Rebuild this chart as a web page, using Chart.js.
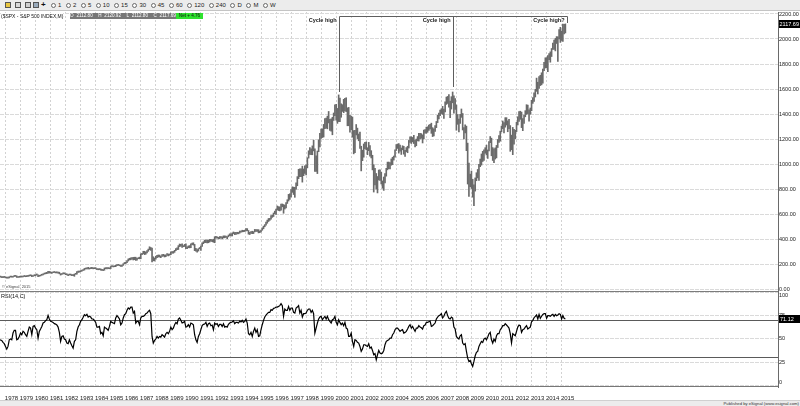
<!DOCTYPE html>
<html>
<head>
<meta charset="utf-8">
<title>$SPX - S&amp;P 500 INDEX, M</title>
<script src="https://cdn.jsdelivr.net/npm/chart.js@4.4.1/dist/chart.umd.min.js"></script>
<style>
  html, body { margin:0; padding:0; background:#fff; }
  #wrap { position:relative; width:800px; height:406px; overflow:hidden; font-family:"Liberation Sans", Arial, sans-serif; }
  #toolbar { position:absolute; left:0; top:0; width:800px; height:10px; background:#ececec; border-bottom:1px solid #c4c4c4; }
  .ico { position:absolute; top:2px; width:6px; height:6px; border:1px solid #555; box-sizing:border-box; }
  #plus { position:absolute; left:41px; top:0; font:bold 8px "Liberation Sans"; line-height:10px; color:#111; }
  #tbtns { position:absolute; left:51px; top:0; height:10px; display:flex; align-items:center; font-size:6px; color:#222; }
  .btn { display:flex; align-items:center; margin-right:4.6px; }
  .btn i { display:block; width:5px; height:5px; box-sizing:border-box; border:1px solid #6a6a6a; border-radius:50%; background:#fafafa; margin-right:2px; }
  canvas { position:absolute; left:0; }
  #price { top:12px; }
  #rsi { top:292px; }
  .hd { position:absolute; top:13px; height:6px; line-height:6px; white-space:nowrap; }
  #sym { left:1px; font-size:5px; color:#111; background:#fff; }
  #ohlc { left:70px; width:106px; background:#777; color:#fff; font-size:4.6px; text-align:center; word-spacing:1.5px; }
  #net { left:176px; width:27px; background:#2fe22f; color:#111; font-size:4.6px; text-align:center; }
  #footer { position:absolute; left:0; top:400px; width:800px; height:6px; background:#ececec; border-top:1px solid #d0d0d0; box-sizing:border-box; font-size:4.2px; line-height:5px; text-align:right; color:#333; padding-right:1px; }
</style>
</head>
<body>
<div id="wrap">
  <div id="toolbar">
    <div class="ico" style="left:5px;background:#e8c640;"></div>
    <div class="ico" style="left:15px;background:#d9d9d9;"></div>
    <div class="ico" style="left:25px;background:#cfcfcf;"></div>
    <div class="ico" style="left:33px;background:#9ab;"></div>
    <div id="plus">+</div>
    <div id="tbtns"></div>
  </div>
  <canvas id="price" width="800" height="280"></canvas>
  <canvas id="rsi" width="800" height="114"></canvas>
  <div class="hd" id="sym">($SPX - S&amp;P 500 INDEX,M)</div>
  <div class="hd" id="ohlc">O 2112.80 &nbsp;H 2120.92 &nbsp;L 2112.80 &nbsp;C 2117.69</div>
  <div class="hd" id="net">Net + 4.76</div>
  <div id="footer">Published by eSignal (www.esignal.com)</div>
</div>
<script>
// ---------------- DATA ----------------
// Monthly S&P 500 bars, first bar = August 1977, last bar = April 2015
const START_YEAR = 1977, START_MONTH = 8;

const lows = [
  96.0, 95.0, 91.5, 90.7, 92.7,
  88.8, 86.9, 86.4, 88.5, 95.5, 94.8, 94.3, 100.2, 100.9, 92.5, 92.0, 93.5,
  96.0, 95.5, 96.3, 100.0, 98.0, 98.8, 100.7, 103.5, 106.0, 99.0, 99.9, 105.8,
  105.2, 112.4, 98.2, 101.5, 104.7, 110.1, 113.5, 119.0, 121.3, 123.0, 126.3, 127.4,
  128.3, 124.7, 129.8, 132.0, 128.5, 129.0, 127.5, 121.5, 111.3, 115.9, 121.0, 121.4,
  114.8, 112.9, 106.6, 111.8, 111.2, 107.2, 106.9, 101.4, 117.4, 118.0, 132.9, 134.4,
  138.3, 142.6, 148.0, 151.0, 160.0, 161.0, 160.0, 159.6, 163.0, 162.0, 161.3, 162.6,
  162.6, 154.3, 153.6, 155.2, 150.2, 148.7, 147.3, 150.2, 162.5, 160.6, 163.1, 161.7,
  163.4, 178.6, 176.5, 178.0, 178.4, 186.8, 189.5, 186.0, 180.6, 181.2, 189.0, 200.5,
  203.5, 210.5, 223.7, 232.0, 233.7, 239.2, 232.2, 234.8, 228.7, 231.0, 242.8, 241.2,
  242.0, 273.8, 282.9, 275.0, 278.2, 288.7, 301.3, 314.0, 309.0, 216.5, 225.8, 223.9,
  238.6, 251.3, 256.1, 255.2, 250.8, 260.1, 263.0, 256.0, 258.3, 269.1, 264.6, 270.0,
  273.8, 287.0, 286.0, 293.5, 305.8, 314.0, 316.0, 339.0, 342.0, 332.8, 338.0, 340.0,
  322.9, 322.1, 330.0, 329.1, 330.8, 354.0, 351.0, 306.9, 302.5, 294.5, 303.7, 321.8,
  309.4, 340.0, 362.5, 371.2, 371.4, 368.6, 370.0, 376.0, 382.3, 378.7, 374.0, 370.2,
  407.0, 407.8, 401.4, 402.0, 409.3, 401.6, 407.9, 410.0, 413.3, 402.7, 417.3, 427.0,
  425.5, 424.2, 443.0, 435.0, 437.6, 440.9, 441.3, 447.0, 454.0, 457.0, 458.0, 460.0,
  464.6, 466.1, 438.9, 435.9, 444.4, 442.6, 443.3, 456.9, 460.5, 460.3, 448.9, 450.6,
  457.2, 470.2, 481.9, 497.9, 511.3, 526.0, 540.0, 549.0, 559.0, 573.0, 580.0, 602.0,
  597.3, 632.6, 627.6, 624.7, 630.1, 658.0, 605.9, 639.7, 649.4, 684.4, 703.8, 716.7,
  737.0, 773.4, 756.0, 733.5, 797.8, 826.0, 883.0, 898.0, 898.3, 855.0, 906.8, 924.0,
  912.8, 969.0, 1047.0, 1076.7, 1074.7, 1074.0, 1105.0, 939.9, 939.9, 923.3, 1098.7, 1136.9,
  1205.5, 1211.6, 1216.0, 1282.8, 1287.1, 1281.4, 1328.5, 1268.0, 1263.4, 1233.7, 1348.5, 1387.0,
  1350.1, 1325.1, 1339.4, 1339.4, 1373.9, 1420.6, 1410.8, 1424.9, 1419.4, 1305.8, 1305.8, 1254.1,
  1274.6, 1214.5, 1081.2, 1091.0, 1232.4, 1203.0, 1185.7, 1124.9, 944.8, 1026.8, 1054.3, 1123.2,
  1114.0, 1074.4, 1106.7, 1063.5, 1048.5, 952.9, 775.7, 833.4, 800.2, 768.6, 872.1, 869.5,
  840.3, 806.3, 788.9, 847.9, 902.8, 953.3, 962.1, 960.8, 990.4, 995.0, 1031.2, 1055.0,
  1108.0, 1124.4, 1087.2, 1102.8, 1076.3, 1113.3, 1078.8, 1060.7, 1099.2, 1090.2, 1127.6, 1173.4,
  1163.8, 1176.9, 1163.7, 1137.5, 1146.2, 1185.0, 1183.6, 1201.1, 1205.4, 1168.2, 1201.1, 1246.7,
  1245.7, 1253.6, 1268.2, 1280.7, 1245.3, 1219.3, 1224.5, 1261.3, 1290.9, 1331.2, 1360.9, 1385.9,
  1403.9, 1396.7, 1363.9, 1416.4, 1476.7, 1484.2, 1454.3, 1370.6, 1439.3, 1489.6, 1406.1, 1435.7,
  1270.1, 1317.5, 1256.9, 1324.3, 1373.1, 1272.0, 1200.4, 1247.9, 1106.4, 839.8, 741.0, 818.4,
  804.3, 734.5, 666.8, 783.3, 866.1, 888.9, 869.3, 978.5, 991.0, 1020.2, 1029.4, 1085.9,
  1071.6, 1044.5, 1105.4, 1170.7, 1065.8, 1028.3, 1010.9, 1039.7, 1048.9, 1131.9, 1173.0, 1182.9,
  1257.6, 1282.9, 1249.1, 1294.7, 1311.8, 1258.1, 1282.9, 1101.5, 1114.2, 1074.8, 1158.7, 1202.4,
  1258.9, 1312.4, 1340.0, 1357.4, 1291.0, 1266.7, 1325.4, 1377.7, 1396.6, 1403.3, 1343.4, 1398.1,
  1426.2, 1485.0, 1501.5, 1536.0, 1581.3, 1560.3, 1604.6, 1627.5, 1633.4, 1646.5, 1746.2, 1767.9,
  1770.5, 1737.9, 1834.4, 1814.4, 1859.8, 1915.9, 1916.4, 1904.8, 1964.0, 1820.7, 2001.0, 1972.6,
  1988.1, 1980.9, 2039.7, 2048.4
];

const highs = [
  99.5, 97.5, 97.0, 95.8, 95.3,
  95.2, 90.1, 89.6, 97.7, 99.7, 99.3, 101.0, 106.3, 106.9, 104.5, 97.0, 97.0,
  100.8, 100.1, 102.2, 103.0, 102.0, 103.6, 104.3, 110.0, 111.6, 111.0, 106.8, 109.7,
  115.2, 118.4, 114.3, 107.0, 111.9, 117.0, 122.0, 126.0, 130.4, 133.7, 141.0, 140.7,
  138.1, 131.6, 137.6, 138.4, 134.1, 134.5, 132.7, 134.5, 123.0, 124.0, 127.3, 127.2,
  122.6, 121.0, 114.1, 119.4, 119.6, 112.4, 112.3, 119.6, 124.7, 138.6, 143.4, 143.7,
  147.3, 149.3, 154.0, 164.6, 166.4, 170.0, 172.6, 164.8, 168.7, 172.7, 168.2, 167.2,
  169.5, 163.9, 160.1, 161.3, 161.0, 155.6, 153.2, 168.2, 167.8, 170.4, 170.4, 168.0,
  180.3, 183.9, 184.0, 183.6, 190.0, 192.0, 197.3, 193.2, 189.0, 190.5, 202.4, 212.0,
  213.4, 227.9, 240.4, 245.8, 249.2, 252.0, 253.0, 254.4, 254.2, 244.6, 249.9, 254.9,
  280.9, 285.5, 301.9, 301.9, 296.0, 306.9, 319.2, 337.9, 332.0, 328.0, 258.0, 248.1,
  262.5, 268.6, 272.2, 271.6, 263.5, 275.3, 277.6, 273.0, 272.6, 283.7, 280.0, 280.2,
  297.5, 300.3, 300.6, 309.6, 323.1, 329.0, 347.0, 360.0, 357.6, 360.4, 347.0, 356.8,
  360.6, 337.0, 344.5, 347.3, 361.9, 368.0, 369.8, 357.0, 326.0, 316.0, 323.4, 331.8,
  344.3, 369.8, 378.2, 391.3, 392.0, 391.0, 390.0, 397.0, 396.4, 394.0, 398.0, 418.3,
  420.8, 417.2, 413.0, 419.8, 419.8, 417.0, 425.0, 425.0, 422.4, 419.0, 431.6, 441.3,
  442.2, 448.8, 456.4, 452.0, 453.1, 453.9, 452.6, 464.0, 463.9, 470.2, 469.0, 470.9,
  482.9, 483.0, 468.0, 453.1, 459.7, 462.3, 458.9, 476.6, 474.5, 474.8, 474.9, 464.0,
  472.0, 489.2, 503.2, 514.9, 535.6, 551.1, 564.0, 565.0, 587.0, 590.6, 608.0, 622.9,
  638.5, 664.2, 659.0, 656.6, 680.0, 680.3, 675.9, 670.7, 690.9, 714.1, 757.0, 761.8,
  794.7, 817.4, 814.9, 812.9, 850.0, 899.0, 957.7, 961.6, 960.5, 983.1, 960.0, 986.2,
  992.7, 1050.0, 1105.7, 1130.5, 1122.1, 1145.0, 1190.6, 1121.0, 1066.1, 1103.8, 1192.9, 1244.9,
  1280.0, 1281.5, 1316.6, 1362.8, 1368.0, 1383.0, 1420.3, 1357.0, 1361.4, 1373.2, 1408.0, 1473.1,
  1478.0, 1444.6, 1552.9, 1527.2, 1481.5, 1474.6, 1517.3, 1525.2, 1530.1, 1449.0, 1452.6, 1389.1,
  1383.4, 1376.4, 1267.4, 1269.3, 1315.9, 1287.0, 1239.8, 1255.1, 1142.0, 1110.6, 1160.3, 1173.0,
  1176.6, 1130.2, 1173.0, 1147.8, 1106.6, 1070.0, 994.5, 965.0, 924.0, 900.1, 951.6, 954.3,
  935.1, 864.6, 895.9, 924.2, 965.4, 1015.3, 1015.4, 1011.0, 1040.3, 1053.8, 1063.6, 1112.6,
  1155.4, 1160.0, 1163.2, 1150.6, 1127.7, 1146.2, 1140.8, 1109.7, 1131.5, 1142.1, 1188.5, 1217.3,
  1217.8, 1212.4, 1229.1, 1191.9, 1199.6, 1219.6, 1245.2, 1245.9, 1243.1, 1233.3, 1270.6, 1275.8,
  1294.9, 1297.6, 1310.9, 1318.2, 1326.7, 1290.7, 1280.4, 1306.7, 1340.3, 1389.5, 1407.9, 1431.8,
  1441.6, 1461.6, 1438.9, 1498.0, 1535.6, 1540.6, 1555.9, 1503.9, 1538.7, 1576.1, 1545.8, 1523.6,
  1471.8, 1396.0, 1359.7, 1397.0, 1440.2, 1404.1, 1292.2, 1313.2, 1303.0, 1167.0, 1007.5, 918.9,
  943.9, 877.9, 833.0, 888.7, 930.2, 956.2, 996.7, 1039.5, 1080.2, 1101.4, 1113.7, 1130.4,
  1150.5, 1112.4, 1180.2, 1219.8, 1206.8, 1131.2, 1120.9, 1129.2, 1148.7, 1196.1, 1227.1, 1262.6,
  1302.7, 1344.1, 1332.3, 1370.6, 1370.6, 1345.2, 1356.5, 1307.4, 1230.7, 1292.7, 1277.6, 1269.4,
  1333.5, 1378.0, 1419.2, 1422.4, 1415.3, 1363.5, 1392.0, 1426.7, 1474.5, 1470.9, 1434.3, 1448.0,
  1509.9, 1530.9, 1570.3, 1597.6, 1687.2, 1654.2, 1698.8, 1709.7, 1729.9, 1759.8, 1813.6, 1849.4,
  1850.8, 1867.9, 1883.9, 1897.3, 1924.0, 1968.2, 1991.4, 2005.0, 2019.3, 2018.2, 2075.8, 2093.6,
  2064.4, 2119.6, 2117.5, 2120.9
];

// RSI(14, C) monthly
const rsiValues = [
  48.9, 48.9, 48.2, 46.1, 44.7,
  41.8, 38.9, 41.8, 48.9, 49.7, 48.9, 56.1, 59.0, 59.0, 48.9, 49.7, 52.5,
  56.1, 54.3, 57.9, 56.8, 54.3, 52.5, 57.9, 62.5, 61.4, 54.3, 63.2, 64.0,
  61.4, 59.7, 50.7, 57.9, 60.4, 63.2, 66.8, 67.5, 69.3, 70.4, 75.0, 71.1,
  68.6, 68.2, 67.5, 66.1, 65.7, 64.7, 62.5, 56.8, 47.2, 52.5, 53.2, 49.7,
  48.9, 45.4, 44.7, 48.9, 45.4, 42.5, 40.0, 47.2, 48.9, 57.9, 62.5, 65.0,
  68.6, 70.4, 72.9, 75.7, 74.7, 76.1, 73.2, 74.0, 73.2, 71.1, 71.1, 69.7,
  67.5, 62.5, 62.5, 63.2, 55.4, 56.8, 53.2, 62.5, 61.4, 60.4, 59.0, 63.2,
  68.6, 67.5, 66.8, 66.1, 72.2, 74.7, 73.2, 71.1, 65.0, 66.8, 72.2, 75.7,
  76.8, 80.4, 82.9, 81.8, 83.9, 83.9, 77.5, 79.3, 66.8, 68.6, 68.6, 65.0,
  72.2, 74.0, 74.0, 74.7, 76.8, 77.5, 79.3, 80.4, 76.8, 52.5, 45.4, 48.2,
  49.7, 52.5, 50.7, 52.5, 51.8, 54.3, 53.2, 51.8, 55.4, 56.8, 55.4, 57.9,
  62.5, 59.7, 61.4, 65.0, 67.5, 66.1, 71.1, 72.2, 69.7, 66.8, 67.5, 68.6,
  62.5, 63.2, 65.0, 62.5, 66.8, 66.1, 65.0, 54.3, 48.9, 46.1, 52.5, 55.4,
  59.7, 64.0, 65.4, 65.7, 67.5, 63.2, 66.1, 66.8, 64.0, 64.7, 59.7, 66.8,
  65.4, 66.1, 63.2, 65.4, 65.4, 63.2, 66.1, 62.5, 63.2, 62.5, 65.4, 66.8,
  67.5, 67.9, 69.3, 66.1, 67.5, 67.5, 66.8, 68.9, 67.9, 69.7, 67.5, 68.6,
  71.1, 66.8, 55.4, 54.3, 56.8, 52.5, 57.9, 61.4, 56.8, 59.7, 52.5, 53.2,
  59.7, 65.0, 69.7, 73.2, 75.4, 76.8, 78.2, 78.2, 81.1, 80.4, 82.5, 82.9,
  83.9, 83.9, 84.6, 85.4, 87.5, 85.4, 74.0, 81.8, 80.4, 80.4, 84.6, 80.4,
  82.9, 82.9, 78.2, 77.5, 82.9, 83.9, 85.4, 77.5, 80.4, 73.2, 76.8, 76.8,
  77.5, 80.4, 81.8, 81.8, 78.2, 80.4, 76.8, 56.1, 61.4, 66.8, 71.1, 73.2,
  74.0, 70.4, 72.2, 74.0, 71.1, 74.0, 70.4, 68.6, 66.8, 70.4, 71.1, 74.0,
  67.5, 65.0, 70.4, 67.5, 65.0, 66.8, 64.0, 67.5, 61.4, 60.4, 52.5, 52.5,
  56.1, 47.2, 41.8, 48.9, 48.2, 46.1, 45.4, 41.8, 36.5, 38.9, 43.6, 43.6,
  42.5, 41.8, 44.7, 40.0, 41.1, 37.5, 32.9, 34.0, 27.5, 32.9, 37.5, 34.7,
  34.0, 34.7, 37.5, 43.6, 47.2, 48.2, 48.9, 50.7, 50.7, 54.3, 56.1, 59.7,
  61.4, 61.4, 59.7, 57.9, 59.0, 59.7, 56.1, 56.8, 57.9, 60.4, 63.2, 65.0,
  61.4, 63.2, 60.4, 57.9, 61.4, 61.4, 64.0, 62.5, 61.8, 60.4, 64.0, 64.7,
  67.5, 67.5, 68.2, 68.9, 63.2, 64.0, 65.4, 66.8, 71.1, 73.2, 74.7, 75.4,
  76.8, 72.2, 74.0, 77.5, 79.3, 74.7, 71.8, 71.1, 73.2, 72.2, 62.5, 60.4,
  52.5, 50.7, 49.7, 53.2, 54.3, 45.4, 43.6, 44.7, 36.5, 29.3, 25.7, 26.8,
  23.2, 20.4, 25.7, 31.8, 35.4, 36.5, 41.8, 44.7, 47.2, 46.1, 49.7, 50.7,
  48.9, 51.8, 55.4, 56.8, 48.9, 45.4, 49.7, 47.2, 53.2, 55.4, 55.4, 59.7,
  61.4, 64.0, 64.0, 66.1, 64.7, 63.2, 61.4, 55.4, 45.4, 55.4, 54.3, 53.2,
  57.9, 62.5, 64.7, 64.0, 56.8, 59.7, 60.4, 62.5, 64.0, 60.4, 61.4, 62.5,
  68.2, 69.7, 72.5, 74.0, 75.4, 71.1, 76.1, 71.8, 74.0, 76.1, 76.8, 76.8,
  71.8, 74.7, 74.7, 74.0, 75.4, 76.1, 74.0, 76.1, 74.7, 75.4, 76.8, 76.1,
  71.1, 74.7, 71.8, 71.12
];

const lastClose = 2117.69;
const yearTicks = [1978,1979,1980,1981,1982,1983,1984,1985,1986,1987,1988,1989,1990,1991,1992,1993,1994,1995,1996,1997,1998,1999,2000,2001,2002,2003,2004,2005,2006,2007,2008,2009,2010,2011,2012,2013,2014,2015];
const priceTicks = [0,200,400,600,800,1000,1200,1400,1600,1800,2000,2200];
const rsiTicks = [0,25,50,75,100];
const rsiLevels = [70,30];
const cycleMarks = [
  {label:'Cycle high',  t:2000 + 2/12, tip:1578},
  {label:'Cycle high',  t:2007 + 9/12, tip:1614},
  {label:'Cycle high?', t:2015 + 4/12, tip:2125}
];
const cycleTop = 2184;
const intervalButtons = ['1','2','5','10','15','30','45','60','120','240','D','M','W'];

// ---------------- VIEW ----------------
const X_MIN = 1977.634, X_MAX = 2029.397;
const FONT = '"Liberation Sans", Arial, sans-serif';
Chart.defaults.font.family = FONT;

const tb = document.getElementById('tbtns');
intervalButtons.forEach(b => {
  const s = document.createElement('span'); s.className = 'btn';
  s.innerHTML = '<i></i>' + b; tb.appendChild(s);
});

const monthTime = i => START_YEAR + (START_MONTH - 1 + i) / 12;

const xScaleBase = (showLabels) => ({
  type: 'linear', min: X_MIN, max: X_MAX, offset: false,
  grid: { offset: false, color: '#d2d2d2', lineWidth: 1, drawTicks: false },
  border: { display: false, dash: [2, 2] },
  ticks: showLabels ? {
    font: { size: 6, family: FONT }, color: '#222', padding: 8, labelOffset: 6,
    autoSkip: false, maxRotation: 0, minRotation: 0, callback: v => String(v)
  } : { display: false },
  afterBuildTicks: s => { s.ticks = yearTicks.map(v => ({ value: v })); },
  afterFit: s => { s.height = showLabels ? 19 : 0; s.paddingLeft = 0; s.paddingRight = 0; }
});

const priceOverlay = {
  id: 'priceOverlay',
  afterDraw(chart) {
    const { ctx, chartArea: a, scales: { x, y } } = chart;
    ctx.save();
    ctx.fillStyle = '#7c7c7c';
    ctx.fillRect(0, a.bottom - 1, a.right, 1);
    ctx.strokeStyle = '#5e5e5e'; ctx.lineWidth = 1;
    const yTop = Math.round(y.getPixelForValue(cycleTop)) + 0.5;
    const xs = cycleMarks.map(c => Math.round(x.getPixelForValue(c.t)) + 0.5);
    ctx.beginPath();
    ctx.moveTo(xs[0], yTop); ctx.lineTo(xs[xs.length - 1], yTop);
    cycleMarks.forEach((c, i) => { ctx.moveTo(xs[i], yTop); ctx.lineTo(xs[i], Math.round(y.getPixelForValue(c.tip))); });
    ctx.stroke();
    ctx.fillStyle = '#1a1a1a'; ctx.font = 'bold 5.5px ' + FONT;
    ctx.textAlign = 'right'; ctx.textBaseline = 'middle';
    cycleMarks.forEach((c, i) => ctx.fillText(c.label, xs[i] - 3, yTop + 4));
    ctx.font = '4px ' + FONT; ctx.textAlign = 'left'; ctx.fillStyle = '#444';
    ctx.fillText('\u00A9 eSignal, 2015', 2, a.bottom - 5);
    const yb = y.getPixelForValue(lastClose);
    ctx.fillStyle = '#000'; ctx.fillRect(a.right + 1, Math.round(yb) - 4, 22, 8);
    ctx.fillStyle = '#fff'; ctx.font = '5.5px ' + FONT;
    ctx.fillText(lastClose.toFixed(2), a.right + 1.5, yb);
    ctx.restore();
  }
};

new Chart(document.getElementById('price'), {
  type: 'bar',
  data: { datasets: [{
    data: lows.map((lo, i) => ({ x: monthTime(i), y: [lo, highs[i]] })),
    backgroundColor: '#6a6a6a', borderWidth: 0, barThickness: 1, minBarLength: 1
  }] },
  options: {
    responsive: false, animation: false, events: [],
    layout: { padding: 0 },
    plugins: { legend: { display: false }, tooltip: { enabled: false } },
    scales: {
      x: xScaleBase(false),
      y: {
        position: 'right', min: -24, max: 2216,
        grid: { color: '#dadada', drawTicks: false },
        border: { display: true, color: '#6a6a6a', dash: [4, 1] },
        ticks: { font: { size: 5.5, family: FONT }, color: '#222', padding: 1, callback: v => v.toFixed(2) },
        afterBuildTicks: s => { s.ticks = priceTicks.map(v => ({ value: v })); },
        afterFit: s => { s.width = 22; s.paddingTop = 0; s.paddingBottom = 0; }
      }
    }
  },
  plugins: [priceOverlay]
});

const rsiOverlay = {
  id: 'rsiOverlay',
  beforeDatasetsDraw(chart) {
    const { ctx, chartArea: a, scales: { y } } = chart;
    ctx.save(); ctx.strokeStyle = '#5a5a5a'; ctx.lineWidth = 1;
    rsiLevels.forEach(v => {
      const py = Math.round(y.getPixelForValue(v)) + 0.5;
      ctx.beginPath(); ctx.moveTo(a.left, py); ctx.lineTo(a.right, py); ctx.stroke();
    });
    ctx.restore();
  },
  afterDraw(chart) {
    const { ctx, chartArea: a, scales: { y } } = chart;
    ctx.save();
    ctx.fillStyle = '#777';
    ctx.fillRect(0, a.bottom - 1, a.right, 1);
    ctx.fillStyle = '#111'; ctx.font = '5.5px ' + FONT;
    ctx.textAlign = 'left'; ctx.textBaseline = 'middle';
    ctx.fillText('RSI(14,C)', 1, a.top + 4);
    const last = rsiValues[rsiValues.length - 1];
    const yb = y.getPixelForValue(last);
    ctx.fillStyle = '#000'; ctx.fillRect(a.right + 1, Math.round(yb) - 4, 22, 8);
    ctx.fillStyle = '#fff';
    ctx.fillText(last.toFixed(2), a.right + 2, yb);
    ctx.restore();
  }
};

new Chart(document.getElementById('rsi'), {
  type: 'line',
  data: { datasets: [{
    data: rsiValues.map((v, i) => ({ x: monthTime(i), y: v })),
    borderColor: '#000', borderWidth: 1.2, pointRadius: 0, tension: 0, fill: false
  }] },
  options: {
    responsive: false, animation: false, events: [],
    layout: { padding: 0 },
    plugins: { legend: { display: false }, tooltip: { enabled: false } },
    scales: {
      x: xScaleBase(true),
      y: {
        position: 'right', min: -1.6, max: 100,
        grid: { color: '#dadada', drawTicks: false },
        border: { display: true, color: '#6a6a6a', dash: [4, 1] },
        ticks: {
          font: { size: 5.5, family: FONT }, color: '#222', padding: 1,
          callback: v => v === 100 ? ['', '100'] : (v === 0 ? ['0', ''] : String(v))
        },
        afterBuildTicks: s => { s.ticks = rsiTicks.map(v => ({ value: v })); },
        afterFit: s => { s.width = 22; s.paddingTop = 0; s.paddingBottom = 0; }
      }
    }
  },
  plugins: [rsiOverlay]
});
</script>
</body>
</html>
